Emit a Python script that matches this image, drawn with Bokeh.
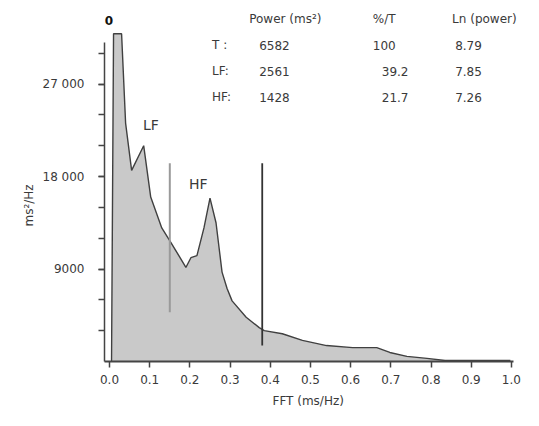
import math
from bokeh.plotting import figure
from bokeh.models import FixedTicker, Label, Range1d, Title
from bokeh.embed import file_html
from bokeh.resources import INLINE

# ---- data ----
freq = [0.005, 0.01, 0.03, 0.04, 0.055, 0.085, 0.1025, 0.13, 0.1525, 0.1725, 0.19,
        0.2025, 0.2175, 0.235, 0.25, 0.265, 0.28, 0.2925, 0.305, 0.34, 0.3725,
        0.385, 0.43, 0.48, 0.54, 0.605, 0.665, 0.6975, 0.74, 0.79, 0.835, 0.9975]
power = [0, 31900, 31900, 23200, 18600, 21000, 16000, 13000, 11600, 10300, 9150,
         10100, 10300, 13000, 15900, 13500, 8700, 7100, 5900, 4300, 3300,
         3000, 2700, 2050, 1550, 1350, 1350, 880, 500, 300, 100, 100]

lf_hf_boundary = 0.15
hf_upper = 0.38
boundary_y = [4800, 19300]
hf_upper_y = [1550, 19300]

x_ticks = [0.0, 0.1, 0.2, 0.3, 0.4, 0.5, 0.6, 0.7, 0.8, 0.9, 1.0]
x_tick_labels = ["0.0", "0.1", "0.2", "0.3", "0.4", "0.5", "0.6", "0.7", "0.8", "0.9", "1.0"]
y_ticks = [9000, 18000, 27000]
y_tick_labels = ["9000", "18 000", "27 000"]
y_minor = [3000, 6000, 9000, 12000, 15000, 18000, 21000, 24000, 27000, 30000]

x_title = "FFT (ms/Hz)"
y_title = "ms²/Hz"
table_header = ["Power (ms²)", "%/T", "Ln (power)"]
row_names = ["T :", "LF:", "HF:"]
power_col = ["6582", "2561", "1428"]
pct_col = ["100", "39.2", "21.7"]
ln_col = ["8.79", "7.85", "7.26"]

FONT = "DejaVu Sans"
TXT = "#3a3a3a"

p = figure(width=535, height=418, output_backend="svg", toolbar_location=None,
           x_range=Range1d(-0.0125, 1.06), y_range=Range1d(0, 34350),
           min_border_left=104, min_border_right=0, min_border_top=8, min_border_bottom=57)
p.outline_line_color = None
p.xgrid.grid_line_color = None
p.ygrid.grid_line_color = None
p.background_fill_color = "white"

p.varea(x=freq, y1=[0] * len(freq), y2=power, fill_color="#c9c9c9")
p.line(freq, power, line_color="#404040", line_width=1.4)

p.line([lf_hf_boundary, lf_hf_boundary], boundary_y, line_color="#9a9a9a", line_width=2)
p.line([hf_upper, hf_upper], hf_upper_y, line_color="#333333", line_width=1.8)

# axes
xa = p.xaxis[0]
xa.ticker = FixedTicker(ticks=x_ticks)
xa.bounds = (-0.0125, 1.005)
xa.major_label_overrides = {t: l for t, l in zip(x_ticks, x_tick_labels)}
xa.major_label_text_font = FONT
xa.major_label_text_font_size = "12px"
xa.major_label_text_color = TXT
xa.major_label_standoff = 7
xa.axis_line_width = 2
xa.axis_line_color = "#444444"
xa.major_tick_out = 6
xa.major_tick_in = 0
xa.major_tick_line_width = 1.5
xa.major_tick_line_color = "#444444"
xa.minor_tick_line_color = None

ya = p.yaxis[0]
ya.ticker = FixedTicker(ticks=y_ticks, minor_ticks=y_minor)
ya.major_label_overrides = {t: l for t, l in zip(y_ticks, y_tick_labels)}
ya.bounds = (0, 31000)
ya.major_label_text_font = FONT
ya.major_label_text_font_size = "12px"
ya.major_label_text_color = TXT
ya.major_label_standoff = 14
ya.axis_line_width = 1.5
ya.axis_line_color = "#444444"
ya.major_tick_out = 6
ya.major_tick_in = 0
ya.minor_tick_out = 6
ya.minor_tick_in = 0
ya.major_tick_line_width = 1.5
ya.minor_tick_line_width = 1.5
ya.major_tick_line_color = "#444444"
ya.minor_tick_line_color = "#444444"

p.add_layout(Title(text=x_title, align="left", offset=168, text_font=FONT,
                   text_font_size="12px", text_font_style="normal", text_color=TXT,
                   padding=(0, 9, 0, 0)), "below")
p.add_layout(Title(text=y_title, align="left", offset=135, text_font=FONT,
                   text_font_size="12px", text_font_style="normal", text_color=TXT,
                   standoff=8), "left")

def lab(x, y, t, size="12px", style="normal", color=TXT):
    p.add_layout(Label(x=x, y=y, text=t, text_align="left", text_baseline="middle",
                       text_font=FONT, text_font_size=size, text_font_style=style,
                       text_color=color))

lab(-0.012, 33200, "0", size="12px", style="bold", color="#111111")
lab(0.083, 23060, "LF", size="14px")
lab(0.198, 17320, "HF", size="14px")

header_x = [0.3475, 0.655, 0.8525]
for hx, h in zip(header_x, table_header):
    lab(hx, 33280, h)
row_y = [30750, 28220, 25690]
pct_x = [0.655, 0.6775, 0.6775]
for i in range(3):
    lab(0.255, row_y[i], row_names[i])
    lab(0.3725, row_y[i], power_col[i])
    lab(pct_x[i], row_y[i], pct_col[i])
    lab(0.86, row_y[i], ln_col[i])

open("out.html", "w").write(file_html(p, INLINE))
